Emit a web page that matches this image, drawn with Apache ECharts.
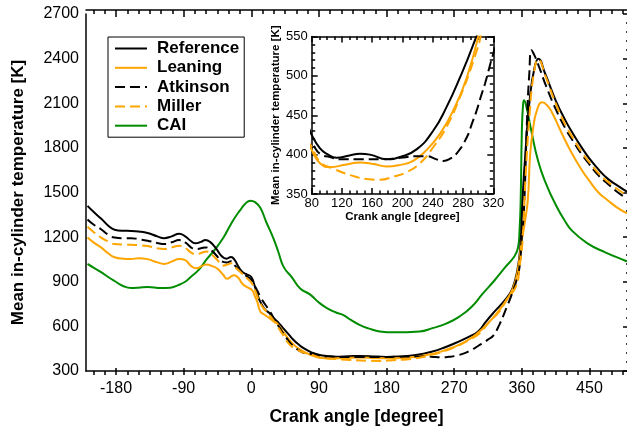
<!DOCTYPE html>
<html>
<head>
<meta charset="utf-8">
<script src="https://cdn.jsdelivr.net/npm/echarts@6/dist/echarts.min.js"></script>
<style>
  html, body { margin: 0; padding: 0; background: #fff; }
  #chart { width: 627px; height: 431px; }
</style>
</head>
<body>
<div id="chart"></div>
<script>
"use strict";

// series names
var names = ["Reference", "Leaning", "Atkinson", "Miller", "CAI"];

// tick values of the main crank angle axis
var xTickLabels = [-180, -90, 0, 90, 180, 270, 360, 450];
var xMinorTicks = [];
for (var t = -210; t <= 495; t += 15) xMinorTicks.push(t);

// [crank angle, temperature]
var reference = [
  [-218,1410],[-210,1370],[-200,1325],[-190,1275],[-182,1250],[-170,1243],[-160,1242],[-150,1238],
  [-138,1228],[-125,1205],[-116,1193],[-106,1205],[-96,1222],[-88,1205],[-80,1172],[-74,1158],
  [-67,1168],[-61,1180],[-55,1168],[-47,1125],[-40,1075],[-33,1055],[-27,1067],[-22,1045],
  [-17,1000],[-11,962],[-6,950],[0,932],[4,880],[8,815],[12,765],[18,715],[24,690],[30,655],
  [37,620],[43,585],[50,545],[56,510],[63,478],[69,455],[76,435],[80,425],[91,408],[100,401],
  [113,396],[130,399],[144,401],[157,400],[179,394],[197,397],[219,407],[241,431],[258,460],
  [276,498],[294,541],[302,565],[312,630],[322,690],[332,745],[342,805],[348,860],[354,975],
  [358,1130],[361,1460],[365,1780],[371,2150],[377,2340],[382,2400],[391,2300],[405,2120],
  [418,1985],[427,1905],[440,1800],[449,1735],[462,1655],[475,1590],[488,1545],[500,1505]
];
var leaning = [
  [-218,1197],[-210,1165],[-200,1131],[-190,1090],[-182,1065],[-170,1055],[-160,1053],[-150,1058],
  [-138,1052],[-125,1030],[-116,1020],[-106,1035],[-96,1053],[-88,1045],[-80,1005],[-73,990],
  [-66,1005],[-60,1016],[-52,1005],[-45,987],[-38,950],[-32,920],[-27,935],[-23,943],[-17,925],
  [-12,887],[-5,862],[1,843],[5,800],[8,765],[12,700],[17,680],[21,666],[28,640],[34,621],
  [43,560],[52,500],[58,470],[65,444],[72,425],[80,406],[91,389],[104,384],[124,387],[144,390],
  [162,388],[179,385],[197,387],[214,392],[232,406],[250,427],[267,456],[285,498],[302,558],
  [315,620],[330,710],[340,780],[349,865],[355,990],[360,1180],[364,1300],[368,1450],[371,1750],
  [375,1930],[380,2050],[387,2106],[393,2090],[400,2040],[413,1900],[427,1760],[440,1650],
  [449,1585],[462,1500],[475,1445],[488,1395],[500,1360]
];
var atkinson = [
  [-218,1319],[-210,1285],[-200,1253],[-190,1215],[-182,1197],[-170,1193],[-160,1193],[-150,1186],
  [-138,1176],[-125,1160],[-116,1153],[-106,1165],[-96,1180],[-88,1165],[-80,1130],[-74,1120],
  [-67,1125],[-61,1131],[-55,1118],[-47,1080],[-40,1040],[-33,1030],[-27,1038],[-22,1010],
  [-16,975],[-6,936],[0,915],[3,887],[8,840],[12,800],[18,750],[25,699],[31,645],[38,588],
  [45,535],[52,488],[58,460],[65,433],[72,418],[80,414],[91,401],[104,397],[118,394],[140,394],
  [170,394],[197,396],[219,398],[232,398],[245,394],[254,392],[263,395],[272,402],[285,422],
  [292,440],[298,456],[304,475],[309,490],[316,515],[322,538],[330,610],[340,730],[347,820],
  [353,910],[357,1000],[360,1197],[363,1400],[367,1995],[370,2300],[373,2456],[377,2420],
  [383,2345],[392,2220],[405,2062],[418,1930],[427,1855],[440,1755],[449,1695],[462,1615],
  [475,1555],[488,1500],[500,1460]
];
var miller = [
  [-218,1269],[-210,1235],[-200,1197],[-190,1170],[-182,1153],[-170,1150],[-160,1149],[-150,1146],
  [-138,1140],[-125,1125],[-116,1120],[-106,1130],[-96,1142],[-88,1128],[-80,1095],[-73,1085],
  [-66,1095],[-60,1104],[-52,1080],[-45,1045],[-37,1009],[-32,1015],[-27,1025],[-22,1000],
  [-12,954],[-5,920],[1,887],[6,830],[12,754],[20,700],[29,644],[40,560],[51,477],[58,452],
  [65,433],[72,420],[80,410],[91,391],[109,382],[131,374],[153,369],[170,368],[188,372],
  [206,378],[223,389],[241,410],[258,435],[276,473],[294,520],[305,558],[315,620],[330,699],
  [340,780],[352,865],[357,1000],[361,1178],[365,1600],[370,2000],[376,2300],[382,2394],
  [392,2275],[405,2100],[418,1955],[427,1875],[440,1770],[449,1710],[462,1630],[475,1570],
  [488,1520],[500,1480]
];
var cai = [
  [-218,1020],[-210,995],[-200,965],[-190,930],[-182,905],[-170,870],[-160,858],[-150,860],
  [-138,865],[-120,858],[-108,860],[-98,876],[-88,900],[-81,931],[-70,980],[-59,1053],[-48,1120],
  [-37,1197],[-30,1262],[-22,1330],[-15,1380],[-8,1425],[-1,1445],[5,1435],[12,1397],[20,1300],
  [29,1197],[36,1100],[43,1000],[54,930],[65,855],[78,815],[90,760],[100,725],[112,695],
  [122,677],[132,645],[144,610],[157,585],[171,566],[190,560],[224,566],[241,588],[260,620],
  [277,666],[293,730],[308,820],[323,905],[338,998],[350,1070],[355,1130],[357,1244],
  [358.5,1450],[360,1900],[361.5,2080],[363,2120],[366,2080],[372,1930],[382,1707],[393,1550],
  [405,1419],[416,1320],[427,1242],[449,1153],[471,1098],[497,1043],[500,1038]
];

var seriesData = [reference, leaning, atkinson, miller, cai];
var colors = ["#000000", "#ffa500", "#000000", "#ffa500", "#008c00"];
var dashed = [false, false, true, true, false];

var FONT = "Liberation Sans, Arial, Helvetica, sans-serif";

var chartDom = document.getElementById("chart");
var myChart = echarts.init(chartDom, null, { renderer: "canvas" });

function plain(v) { return String(v); }
function merge(a, b) { var o = {}; for (var k in a) o[k] = a[k]; for (var j in b) o[j] = b[j]; return o; }

var TICK = { color: "#000", width: 1.5 };
var NO_LINE = { show: false };
var LINE = { show: true, onZero: false, lineStyle: { color: "#000", width: 1.5 } };

// builds one value axis; ticks are drawn "outside" of an axis placed on the
// opposite side of the grid, so they point into the plot
function axis(extra) {
  var a = {
    type: "value",
    splitLine: { show: false },
    axisLine: NO_LINE,
    axisTick: { show: false },
    minorTick: { show: false },
    axisLabel: { show: false }
  };
  for (var k in extra) a[k] = extra[k];
  return a;
}

// main plot size
var MW = 544, MH = 361;
// inset size
var IW = 181.6, IH = 157.5;

var mainX = { min: -220, max: 500 };
var mainY = { min: 300, max: 2700, interval: 300 };
var inX = { min: 80, max: 320, interval: 40 };
var inY = { min: 350, max: 550, interval: 50 };

var majorX = { show: true, inside: false, length: 7, customValues: xTickLabels, lineStyle: TICK };
var minorX = { show: true, inside: false, length: 4, customValues: xMinorTicks, lineStyle: TICK };
var majorY = { show: true, inside: false, length: 7, lineStyle: TICK };
var minorY = { show: true, splitNumber: 5, length: 4, lineStyle: TICK };
var majorIn = { show: true, inside: false, length: 6, lineStyle: TICK };

var xAxes = [
  // 0: main bottom, carries the data and the labels
  axis(merge(mainX, { gridIndex: 0, position: "bottom", axisLine: LINE,
    name: "Crank angle [degree]", nameLocation: "middle", nameGap: 37,
    nameTextStyle: { fontFamily: FONT, fontSize: 17.5, fontWeight: "bold", color: "#000" },
    axisLabel: { show: true, customValues: xTickLabels, formatter: plain, color: "#000", fontFamily: FONT, fontSize: 16, margin: 10 }
  })),
  // ticks along the bottom edge
  axis(merge(mainX, { gridIndex: 0, position: "top", offset: -MH, axisTick: majorX })),
  axis(merge(mainX, { gridIndex: 0, position: "top", offset: -MH, axisTick: minorX })),
  // top edge line and ticks
  axis(merge(mainX, { gridIndex: 0, position: "bottom", offset: -MH, axisLine: LINE, axisTick: majorX })),
  axis(merge(mainX, { gridIndex: 0, position: "bottom", offset: -MH, axisTick: minorX })),
  // 5: inset bottom, carries the data
  axis(merge(inX, { gridIndex: 1, position: "bottom", axisLine: LINE,
    name: "Crank angle [degree]", nameLocation: "middle", nameGap: 16,
    nameTextStyle: { fontFamily: FONT, fontSize: 11.5, fontWeight: "bold", color: "#000" },
    axisLabel: { show: true, formatter: plain, color: "#000", fontFamily: FONT, fontSize: 13, margin: 3 }
  })),
  axis(merge(inX, { gridIndex: 1, position: "top", offset: -IH, axisTick: majorIn,
    minorTick: { show: true, splitNumber: 4, length: 3.5, lineStyle: TICK } })),
  axis(merge(inX, { gridIndex: 1, position: "bottom", offset: -IH, axisLine: LINE, axisTick: majorIn,
    minorTick: { show: true, splitNumber: 4, length: 3.5, lineStyle: TICK } }))
];

var yAxes = [
  // 0: main left, carries the data and the labels
  axis(merge(mainY, { gridIndex: 0, position: "left", axisLine: LINE,
    name: "Mean in-cylinder temperature [K]", nameLocation: "middle", nameGap: 59,
    nameTextStyle: { fontFamily: FONT, fontSize: 17, fontWeight: "bold", color: "#000" },
    axisLabel: { show: true, formatter: plain, color: "#000", fontFamily: FONT, fontSize: 16, margin: 7 }
  })),
  axis(merge(mainY, { gridIndex: 0, position: "right", offset: -MW, axisTick: majorY, minorTick: minorY })),
  axis(merge(mainY, { gridIndex: 0, position: "left", offset: -MW, axisLine: LINE, axisTick: majorY, minorTick: minorY })),
  // 3: inset left, carries the data
  axis(merge(inY, { gridIndex: 1, position: "left", axisLine: LINE,
    name: "Mean in-cylinder temperature [K]", nameLocation: "middle", nameGap: 30,
    nameTextStyle: { fontFamily: FONT, fontSize: 11.5, fontWeight: "bold", color: "#000" },
    axisLabel: { show: true, formatter: plain, color: "#000", fontFamily: FONT, fontSize: 13, margin: 4 }
  })),
  axis(merge(inY, { gridIndex: 1, position: "right", offset: -IW, axisTick: majorIn,
    minorTick: { show: true, splitNumber: 5, length: 3.5, lineStyle: TICK } })),
  axis(merge(inY, { gridIndex: 1, position: "left", offset: -IW, axisLine: LINE, axisTick: majorIn,
    minorTick: { show: true, splitNumber: 5, length: 3.5, lineStyle: TICK } }))
];

var series = [];
var gridAxis = [[0, 0], [5, 3]];
for (var g = 0; g < 2; g++) {
  for (var i = 0; i < names.length; i++) {
    series.push({
      name: names[i],
      type: "line",
      xAxisIndex: gridAxis[g][0],
      yAxisIndex: gridAxis[g][1],
      data: seriesData[i],
      showSymbol: false,
      symbol: "none",
      smooth: 0.5,
      clip: true,
      lineStyle: { color: colors[i], width: 2, type: dashed[i] ? [10, 5] : "solid" },
      itemStyle: { color: colors[i] },
      z: i === 4 ? 1 : 2
    });
  }
}

var option = {
  animation: false,
  backgroundColor: "#fff",
  grid: [
    { left: 86, top: 14, width: MW, height: MH, containLabel: false },
    { left: 311.7, top: 36.5, width: IW, height: IH, show: true,
      backgroundColor: "#fff", borderWidth: 0 }
  ],
  legend: {
    data: names,
    orient: "vertical",
    left: 108,
    top: 37,
    padding: [3, 5, 3, 6],
    itemGap: 2.3,
    itemWidth: 32,
    itemHeight: 14,
    borderColor: "#000",
    borderWidth: 1,
    backgroundColor: "#fff",
    itemStyle: { opacity: 0 },
    textStyle: { fontFamily: FONT, fontSize: 17, fontWeight: "bold", color: "#000", padding: [0, 0, 0, 5] }
  },
  xAxis: xAxes,
  yAxis: yAxes,
  series: series
};

option && myChart.setOption(option);
</script>
</body>
</html>
